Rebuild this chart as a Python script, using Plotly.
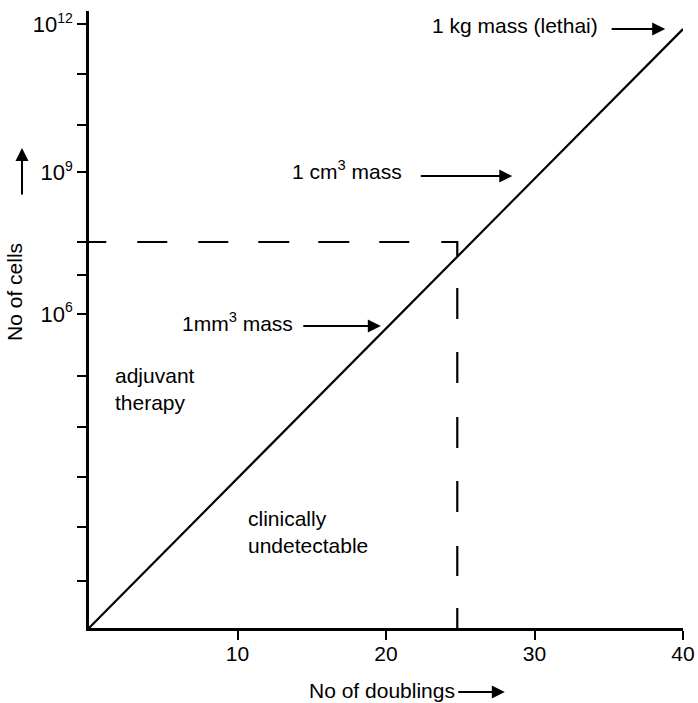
import plotly.graph_objects as go

# ---- data ----
doublings = [0, 40]                 # number of doublings
cells_exponent = [0, 11.9]          # log10(number of cells) along the growth line
detect_doublings = 24.8             # clinical detection threshold (doublings)
detect_exponent = 7.67              # clinical detection threshold (log10 cells)

x_tick_vals = [10, 20, 30, 40]
y_tick_exponents = [12, 11, 10, 9.06, 7.67, 7.02, 6.24, 5, 4, 3, 2, 0.93]
y_tick_powers = ["12", "", "", "9", "", "", "6", "", "", "", "", ""]

# milestone labels: (text, x of text edge, y exponent, anchor, arrow head x, arrow head y, arrow length px)
milestones = [
    ("1 kg mass (lethai)", 34.4, 11.98, "right", 38.8, 11.9, 55),
    ("1 cm<sup>3</sup> mass", 13.55, 9.1, "left", 28.5, 8.98, 93),
    ("1mm<sup>3</sup> mass", 6.1, 6.08, "left", 19.65, 6.0, 79),
]
region_labels = [
    ("adjuvant<br>therapy", 1.6, 4.75),
    ("clinically<br>undetectable", 10.55, 1.91),
]

FONT = "Liberation Sans, Arial, Helvetica, sans-serif"
FS = 21
DASH = ("20px,32px,30px,34px,31px,33px,31px,34px,31px,33px,31px,31px,31px,"
        "32px,30px,30px,31px,29px,31px,30px,30px,31px,30px,31px,20px")

fig = go.Figure()

# growth line
fig.add_trace(go.Scatter(
    x=doublings, y=[10 ** e for e in cells_exponent],
    mode="lines", line=dict(color="black", width=2.2), hoverinfo="skip",
    showlegend=False))

# detection threshold (dashed), drawn from the x axis up and then left
fig.add_trace(go.Scatter(
    x=[detect_doublings, detect_doublings, 0],
    y=[1, 10 ** detect_exponent, 10 ** detect_exponent],
    mode="lines", line=dict(color="black", width=2.2, dash=DASH),
    hoverinfo="skip", showlegend=False))

ARROW = dict(arrowhead=2, arrowsize=1.3, arrowwidth=2, arrowcolor="black")

annotations = []
for text, tx, ty, anchor, hx, hy, alen in milestones:
    annotations.append(dict(x=tx, y=ty, xref="x", yref="y", text=text,
                            showarrow=False, xanchor=anchor, yanchor="middle",
                            font=dict(family=FONT, size=FS, color="black")))
    annotations.append(dict(x=hx, y=hy, xref="x", yref="y", text="",
                            showarrow=True, ax=-alen, ay=0, **ARROW))
for text, tx, ty in region_labels:
    annotations.append(dict(x=tx, y=ty, xref="x", yref="y", text=text,
                            showarrow=False, xanchor="left", yanchor="middle",
                            align="left",
                            font=dict(family=FONT, size=FS, color="black")))

# axis titles with arrows
annotations.append(dict(x=0.4933, y=-0.102, xref="paper", yref="paper",
                        text="No of doublings", showarrow=False,
                        xanchor="center", yanchor="middle",
                        font=dict(family=FONT, size=FS, color="black")))
annotations.append(dict(x=0.700, y=-0.1037, xref="paper", yref="paper",
                        text="", showarrow=True, ax=-48, ay=0, **ARROW))
annotations.append(dict(x=-0.1246, y=0.5446, xref="paper", yref="paper",
                        text="No of cells", showarrow=False, textangle=-90,
                        xanchor="center", yanchor="middle",
                        font=dict(family=FONT, size=FS, color="black")))
annotations.append(dict(x=-0.1128, y=0.778, xref="paper", yref="paper",
                        text="", showarrow=True, ax=0, ay=48, **ARROW))

y_tick_text = [
    ("10<sup><span style='font-size:14px'>%s</span></sup>" % p) if p else ""
    for p in y_tick_powers
]

fig.update_layout(
    width=698, height=703,
    margin=dict(l=89, r=15, t=11, b=75),
    paper_bgcolor="white", plot_bgcolor="white",
    font=dict(family=FONT, size=FS, color="black"),
    annotations=annotations,
    showlegend=False,
)
fig.update_xaxes(
    range=[0, 40], tickvals=x_tick_vals, ticks="outside", ticklen=9,
    tickwidth=2, tickcolor="black", showline=True, linecolor="black",
    linewidth=2.5, showgrid=False, zeroline=False, automargin=False,
    ticklabelstandoff=-4,
    tickfont=dict(family=FONT, size=FS, color="black"))
fig.update_yaxes(
    type="log", range=[0, 12.26],
    tickvals=[10 ** e for e in y_tick_exponents], ticktext=y_tick_text,
    ticks="outside", ticklen=9, tickwidth=2, tickcolor="black",
    showline=True, linecolor="black", linewidth=2.5, showgrid=False,
    zeroline=False, automargin=False,
    tickfont=dict(family=FONT, size=22, color="black"))

fig.write_html(
    "out.html",
    config={"responsive": False, "displayModeBar": False},
    post_script="document.body.style.margin='0px';"
                "document.body.style.overflow='hidden';",
)
